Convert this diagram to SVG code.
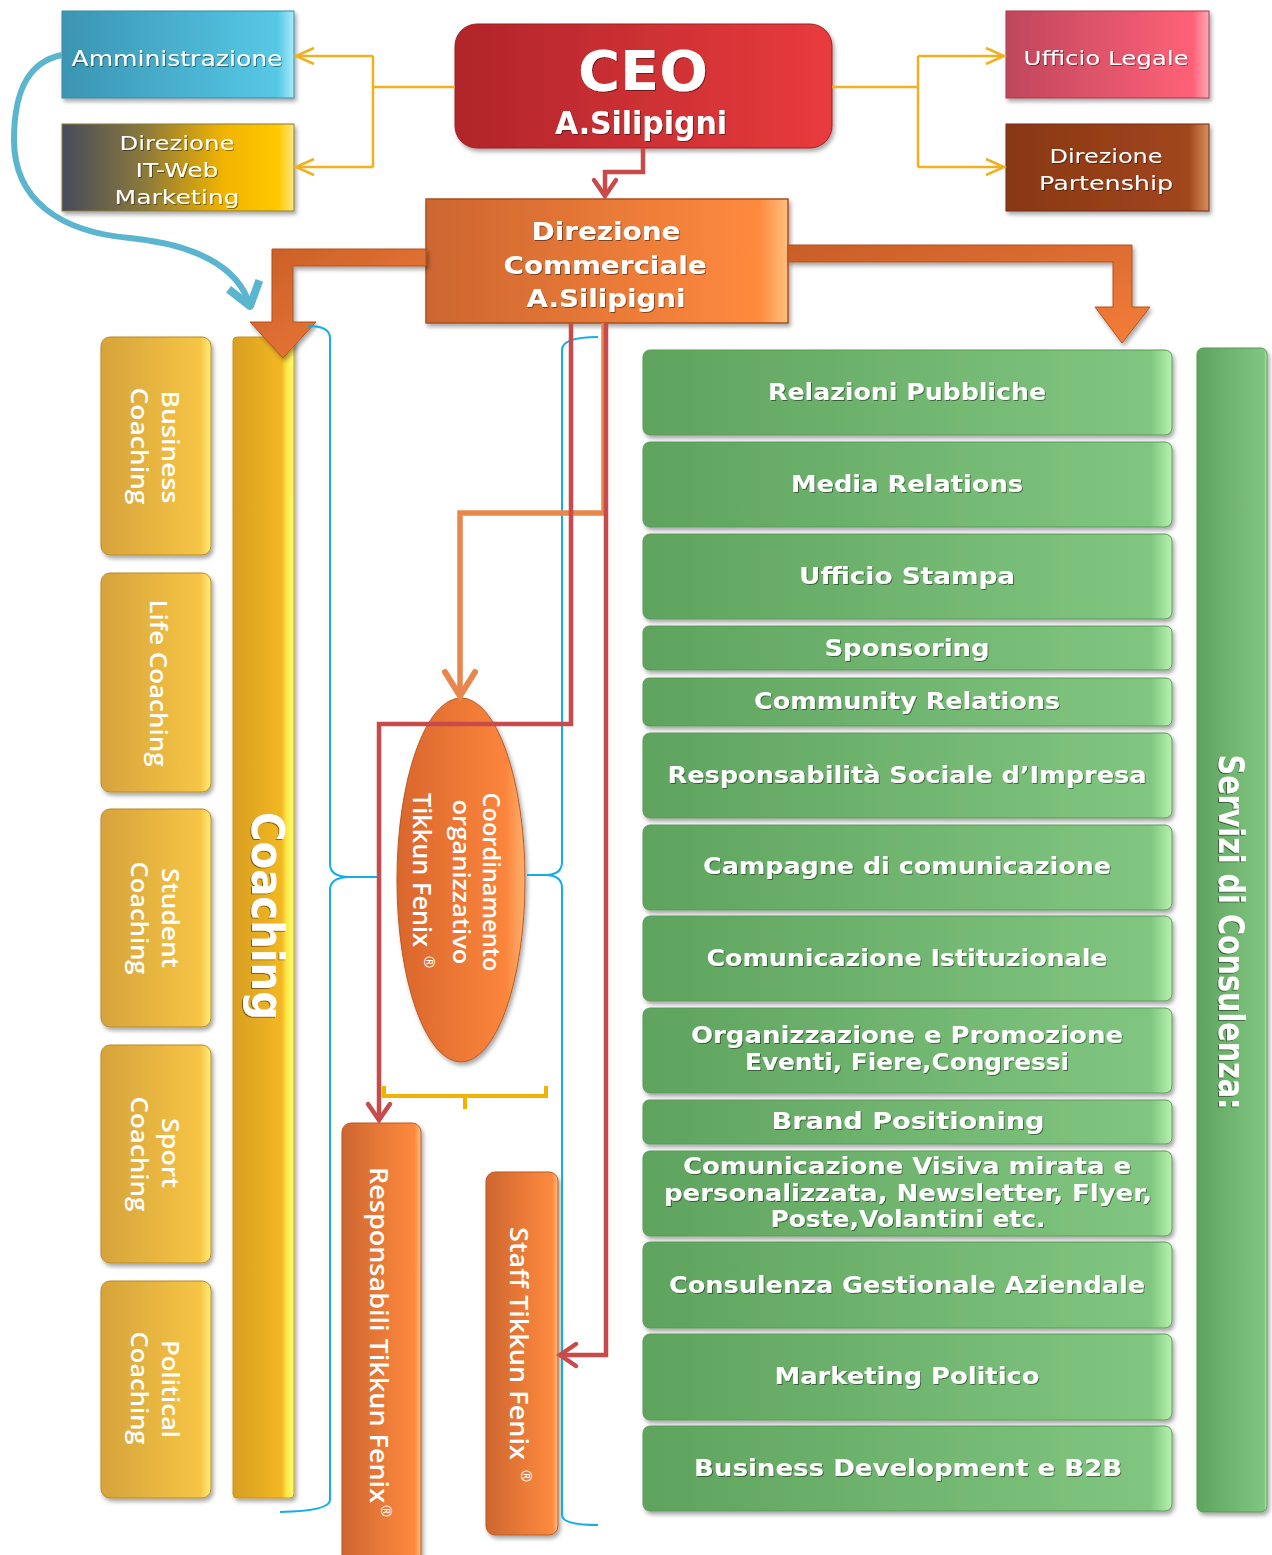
<svg xmlns="http://www.w3.org/2000/svg" width="1272" height="1555" viewBox="0 0 1272 1555">
<style>
.t{font-family:"DejaVu Sans","Liberation Sans",sans-serif;fill:#fff;text-anchor:middle}
.tb{font-family:"DejaVu Sans","Liberation Sans",sans-serif;fill:#fff;text-anchor:middle;font-weight:bold}
.g{font-family:"DejaVu Sans","Liberation Sans",sans-serif;fill:#fff;text-anchor:middle;font-weight:bold;font-size:23px}
.r{font-family:"Open Sans","Liberation Sans",sans-serif;fill:#fff;text-anchor:middle;font-weight:600;font-size:24px}
.rs{font-family:"Open Sans","Liberation Sans",sans-serif;fill:#fff;font-weight:600;font-size:25px}
.reg{font-family:"Open Sans","Liberation Sans",sans-serif;fill:#fff;text-anchor:middle;font-size:15px}
.sv{font-family:"DejaVu Sans Condensed","DejaVu Sans",sans-serif;fill:#fff;text-anchor:middle;font-size:36px;font-weight:bold}
.yl{fill:none;stroke:#f0b020;stroke-width:2.5}
.rd{fill:none;stroke:#c94a4a;stroke-width:4.5}
.br{fill:none;stroke:#12aee8;stroke-width:2}
</style>
<defs>
<filter id="sh" x="-10%" y="-10%" width="130%" height="130%"><feDropShadow dx="2" dy="3" stdDeviation="2" flood-color="#000" flood-opacity="0.35"/></filter>
<filter id="ts" x="-5%" y="-20%" width="110%" height="140%"><feDropShadow dx="1" dy="1" stdDeviation="0.6" flood-color="#000" flood-opacity="0.45"/></filter>
<linearGradient id="gCyan" x1="0" x2="1" y1="0" y2="0"><stop offset="0" stop-color="#3a95b2"/><stop offset="0.93" stop-color="#56c8e6"/><stop offset="1" stop-color="#a8ecfa"/></linearGradient>
<linearGradient id="gIT" x1="0" x2="1" y1="0" y2="0"><stop offset="0" stop-color="#464b5c"/><stop offset="0.35" stop-color="#8a783c"/><stop offset="0.7" stop-color="#f2b400"/><stop offset="0.93" stop-color="#ffc800"/><stop offset="1" stop-color="#ffe680"/></linearGradient>
<linearGradient id="gCEO" x1="0" x2="1" y1="0" y2="0"><stop offset="0" stop-color="#b0252a"/><stop offset="1" stop-color="#e93b3d"/></linearGradient>
<linearGradient id="gPink" x1="0" x2="1" y1="0" y2="0"><stop offset="0" stop-color="#bf475c"/><stop offset="0.92" stop-color="#ff6177"/><stop offset="1" stop-color="#ffa8b8"/></linearGradient>
<linearGradient id="gBrown" x1="0" x2="1" y1="0" y2="0"><stop offset="0" stop-color="#883716"/><stop offset="0.9" stop-color="#a1461c"/><stop offset="1" stop-color="#d8905c"/></linearGradient>
<linearGradient id="gOr" x1="0" x2="1" y1="0" y2="0"><stop offset="0" stop-color="#cd6630"/><stop offset="0.92" stop-color="#ff8a3e"/><stop offset="1" stop-color="#ffc080"/></linearGradient>
<linearGradient id="gEl" x1="0" x2="1" y1="0" y2="0"><stop offset="0" stop-color="#d9662c"/><stop offset="0.85" stop-color="#fb853c"/><stop offset="1" stop-color="#ffb070"/></linearGradient>
<linearGradient id="gArr" x1="0" x2="1" y1="0" y2="1"><stop offset="0" stop-color="#c85e28"/><stop offset="1" stop-color="#f57e3a"/></linearGradient>
<linearGradient id="gGr" x1="0" x2="1" y1="0" y2="0"><stop offset="0" stop-color="#5ea35e"/><stop offset="0.96" stop-color="#81c680"/><stop offset="1" stop-color="#b6f2ae"/></linearGradient>
<linearGradient id="gYe" x1="0" x2="1" y1="0" y2="0"><stop offset="0" stop-color="#d6a33c"/><stop offset="0.9" stop-color="#f6c545"/><stop offset="1" stop-color="#fff07a"/></linearGradient>
<linearGradient id="gCo" x1="0" x2="1" y1="0" y2="0"><stop offset="0" stop-color="#d89e22"/><stop offset="0.8" stop-color="#f2b824"/><stop offset="0.88" stop-color="#ffe84a"/><stop offset="1" stop-color="#ffff6a"/></linearGradient>
<marker id="ay" markerUnits="userSpaceOnUse" viewBox="-22 -12 26 24" refX="0" refY="0" markerWidth="26" markerHeight="24" orient="auto" overflow="visible"><path d="M-18,-8 L0,0 L-18,8" fill="none" stroke="#f0b020" stroke-width="2.5"/></marker>
<marker id="ar" markerUnits="userSpaceOnUse" viewBox="-22 -14 26 28" refX="0" refY="0" markerWidth="26" markerHeight="28" orient="auto" overflow="visible"><path d="M-16,-11 L0,0 L-16,11" fill="none" stroke="#c94a4a" stroke-width="4.5" stroke-linecap="round"/></marker>
<marker id="ao" markerUnits="userSpaceOnUse" viewBox="-30 -20 34 40" refX="0" refY="0" markerWidth="34" markerHeight="40" orient="auto" overflow="visible"><path d="M-24,-15 L0,0 L-24,15" fill="none" stroke="#e8864c" stroke-width="6" stroke-linecap="round"/></marker>
<marker id="ab" markerUnits="userSpaceOnUse" viewBox="-30 -22 34 44" refX="0" refY="0" markerWidth="34" markerHeight="44" orient="auto" overflow="visible"><path d="M-22,-16 L0,0 L-22,16" fill="none" stroke="#5bb5cf" stroke-width="8" stroke-linejoin="round"/></marker>
</defs>
<rect x="0" y="0" width="1272" height="1555" fill="#fff"/>

<g id="nodes">
<g id="amministrazione"><rect x="62" y="11" width="232" height="87" fill="url(#gCyan)" stroke="#3a8aa4" stroke-width="1" filter="url(#sh)"/><text class="t" x="177" y="66" font-size="21" textLength="211" lengthAdjust="spacingAndGlyphs" filter="url(#ts)">Amministrazione</text></g>
<g id="it-web"><rect x="62" y="124" width="232" height="87" fill="url(#gIT)" stroke="#8a7a3a" stroke-width="1" filter="url(#sh)"/><text class="t" font-size="20" filter="url(#ts)"><tspan x="177" y="150" textLength="115" lengthAdjust="spacingAndGlyphs">Direzione</tspan><tspan x="177" y="177" textLength="83" lengthAdjust="spacingAndGlyphs">IT-Web</tspan><tspan x="177" y="204" textLength="125" lengthAdjust="spacingAndGlyphs">Marketing</tspan></text></g>
<g id="ceo"><rect x="455" y="24" width="377" height="124" rx="22" fill="url(#gCEO)" stroke="#9a2024" stroke-width="1" filter="url(#sh)"/><text class="tb" x="643" y="90" font-size="56" textLength="130" lengthAdjust="spacingAndGlyphs" filter="url(#ts)">CEO</text><text class="tb" x="641" y="134" font-size="32" textLength="172" lengthAdjust="spacingAndGlyphs" filter="url(#ts)">A.Silipigni</text></g>
<g id="ufficio-legale"><rect x="1006" y="11" width="203" height="87" fill="url(#gPink)" stroke="#a83a4c" stroke-width="1" filter="url(#sh)"/><text class="t" x="1106" y="65" font-size="20" textLength="165" lengthAdjust="spacingAndGlyphs" filter="url(#ts)">Ufficio Legale</text></g>
<g id="partenship"><rect x="1006" y="124" width="203" height="87" fill="url(#gBrown)" stroke="#6e2c10" stroke-width="1" filter="url(#sh)"/><text class="t" font-size="20" filter="url(#ts)"><tspan x="1106" y="163" textLength="113" lengthAdjust="spacingAndGlyphs">Direzione</tspan><tspan x="1106" y="190" textLength="134" lengthAdjust="spacingAndGlyphs">Partenship</tspan></text></g>
<g id="direzione-commerciale"><rect x="426" y="199" width="362" height="124" fill="url(#gOr)" stroke="#a9501f" stroke-width="1.5" filter="url(#sh)"/><text class="tb" font-size="24" filter="url(#ts)"><tspan x="606" y="240" textLength="149" lengthAdjust="spacingAndGlyphs">Direzione</tspan><tspan x="605" y="274" textLength="203" lengthAdjust="spacingAndGlyphs">Commerciale</tspan><tspan x="606" y="307" textLength="159" lengthAdjust="spacingAndGlyphs">A.Silipigni</tspan></text></g>

<g id="coaching"><rect x="233" y="337" width="61" height="1161" rx="4" fill="url(#gCo)" stroke="#c89420" stroke-width="1" filter="url(#sh)"/><text class="tb" font-size="44" transform="translate(252,916) rotate(90)" textLength="208" lengthAdjust="spacingAndGlyphs" filter="url(#ts)">Coaching</text></g>
<g id="business-coaching"><rect x="101" y="337" width="110" height="218" rx="9" fill="url(#gYe)" stroke="#b88a2a" stroke-width="1" filter="url(#sh)"/><text class="r" transform="translate(162,447) rotate(90)" textLength="113" lengthAdjust="spacingAndGlyphs">Business</text><text class="r" transform="translate(131,446) rotate(90)" textLength="117" lengthAdjust="spacingAndGlyphs">Coaching</text></g>
<g id="life-coaching"><rect x="101" y="573" width="110" height="219" rx="9" fill="url(#gYe)" stroke="#b88a2a" stroke-width="1" filter="url(#sh)"/><text class="r" transform="translate(150,683) rotate(90)" textLength="167" lengthAdjust="spacingAndGlyphs">Life Coaching</text></g>
<g id="student-coaching"><rect x="101" y="809" width="110" height="218" rx="9" fill="url(#gYe)" stroke="#b88a2a" stroke-width="1" filter="url(#sh)"/><text class="r" transform="translate(162,918) rotate(90)" textLength="100" lengthAdjust="spacingAndGlyphs">Student</text><text class="r" transform="translate(131,918) rotate(90)" textLength="113" lengthAdjust="spacingAndGlyphs">Coaching</text></g>
<g id="sport-coaching"><rect x="101" y="1045" width="110" height="218" rx="9" fill="url(#gYe)" stroke="#b88a2a" stroke-width="1" filter="url(#sh)"/><text class="r" transform="translate(162,1153) rotate(90)" textLength="70" lengthAdjust="spacingAndGlyphs">Sport</text><text class="r" transform="translate(131,1154) rotate(90)" textLength="115" lengthAdjust="spacingAndGlyphs">Coaching</text></g>
<g id="political-coaching"><rect x="101" y="1281" width="110" height="217" rx="9" fill="url(#gYe)" stroke="#b88a2a" stroke-width="1" filter="url(#sh)"/><text class="r" transform="translate(162,1389) rotate(90)" textLength="98" lengthAdjust="spacingAndGlyphs">Political</text><text class="r" transform="translate(131,1388) rotate(90)" textLength="113" lengthAdjust="spacingAndGlyphs">Coaching</text></g>

<g id="coordinamento"><ellipse cx="461" cy="880" rx="64" ry="182" fill="url(#gEl)" stroke="#b85a24" stroke-width="1" filter="url(#sh)"/><text class="r" font-size="25" transform="translate(483,882) rotate(90)" textLength="179" lengthAdjust="spacingAndGlyphs">Coordinamento</text><text class="r" font-size="25" transform="translate(453,882) rotate(90)" textLength="165" lengthAdjust="spacingAndGlyphs">organizzativo</text><text class="rs" transform="translate(413,793) rotate(90)" textLength="154" lengthAdjust="spacingAndGlyphs">Tikkun Fenix</text><text class="reg" transform="translate(424,962) rotate(90)">®</text></g>
<g id="responsabili"><rect x="342" y="1123" width="79" height="450" rx="9" fill="url(#gOr)" stroke="#b85a24" stroke-width="1" filter="url(#sh)"/><text class="rs" font-weight="bold" font-size="27" transform="translate(370,1167) rotate(90)" textLength="336" lengthAdjust="spacingAndGlyphs">Responsabili  Tikkun Fenix</text><text class="reg" transform="translate(381,1511) rotate(90)">®</text></g>
<g id="staff"><rect x="486" y="1172" width="72" height="363" rx="9" fill="url(#gOr)" stroke="#b85a24" stroke-width="1" filter="url(#sh)"/><text class="rs" font-weight="bold" font-size="27" transform="translate(510,1227) rotate(90)" textLength="233" lengthAdjust="spacingAndGlyphs">Staff Tikkun Fenix</text><text class="reg" transform="translate(521,1476) rotate(90)">®</text></g>

<g id="servizi"><rect x="1197" y="348" width="70" height="1164" rx="6" fill="url(#gGr)" stroke="#5a9a5a" stroke-width="1" filter="url(#sh)"/><text class="sv" transform="translate(1219,932) rotate(90)" textLength="355" lengthAdjust="spacingAndGlyphs" filter="url(#ts)">Servizi di Consulenza:</text></g>

<g id="relazioni-pubbliche"><rect x="643" y="350" width="529" height="85" rx="7" fill="url(#gGr)" stroke="#5a9a5a" stroke-width="1" filter="url(#sh)"/><text class="g" x="907" y="400" textLength="278" lengthAdjust="spacingAndGlyphs" filter="url(#ts)">Relazioni Pubbliche</text></g>
<g id="media-relations"><rect x="643" y="442" width="529" height="85" rx="7" fill="url(#gGr)" stroke="#5a9a5a" stroke-width="1" filter="url(#sh)"/><text class="g" x="907" y="492" textLength="232" lengthAdjust="spacingAndGlyphs" filter="url(#ts)">Media Relations</text></g>
<g id="ufficio-stampa"><rect x="643" y="534" width="529" height="85" rx="7" fill="url(#gGr)" stroke="#5a9a5a" stroke-width="1" filter="url(#sh)"/><text class="g" x="907" y="584" textLength="216" lengthAdjust="spacingAndGlyphs" filter="url(#ts)">Ufficio Stampa</text></g>
<g id="sponsoring"><rect x="643" y="626" width="529" height="44" rx="6" fill="url(#gGr)" stroke="#5a9a5a" stroke-width="1" filter="url(#sh)"/><text class="g" x="907" y="656" textLength="165" lengthAdjust="spacingAndGlyphs" filter="url(#ts)">Sponsoring</text></g>
<g id="community-relations"><rect x="643" y="678" width="529" height="48" rx="6" fill="url(#gGr)" stroke="#5a9a5a" stroke-width="1" filter="url(#sh)"/><text class="g" x="907" y="709" textLength="306" lengthAdjust="spacingAndGlyphs" filter="url(#ts)">Community Relations</text></g>
<g id="responsabilita-sociale"><rect x="643" y="733" width="529" height="85" rx="7" fill="url(#gGr)" stroke="#5a9a5a" stroke-width="1" filter="url(#sh)"/><text class="g" x="907" y="783" textLength="479" lengthAdjust="spacingAndGlyphs" filter="url(#ts)">Responsabilità Sociale d’Impresa</text></g>
<g id="campagne"><rect x="643" y="825" width="529" height="85" rx="7" fill="url(#gGr)" stroke="#5a9a5a" stroke-width="1" filter="url(#sh)"/><text class="g" x="907" y="874" textLength="408" lengthAdjust="spacingAndGlyphs" filter="url(#ts)">Campagne di comunicazione</text></g>
<g id="comunicazione-istituzionale"><rect x="643" y="916" width="529" height="85" rx="7" fill="url(#gGr)" stroke="#5a9a5a" stroke-width="1" filter="url(#sh)"/><text class="g" x="907" y="966" textLength="401" lengthAdjust="spacingAndGlyphs" filter="url(#ts)">Comunicazione Istituzionale</text></g>
<g id="eventi"><rect x="643" y="1008" width="529" height="85" rx="7" fill="url(#gGr)" stroke="#5a9a5a" stroke-width="1" filter="url(#sh)"/><text class="g" filter="url(#ts)"><tspan x="907" y="1043" textLength="432" lengthAdjust="spacingAndGlyphs">Organizzazione e Promozione</tspan><tspan x="907" y="1070" textLength="324" lengthAdjust="spacingAndGlyphs">Eventi, Fiere,Congressi</tspan></text></g>
<g id="brand-positioning"><rect x="643" y="1100" width="529" height="44" rx="6" fill="url(#gGr)" stroke="#5a9a5a" stroke-width="1" filter="url(#sh)"/><text class="g" x="908" y="1129" textLength="273" lengthAdjust="spacingAndGlyphs" filter="url(#ts)">Brand  Positioning</text></g>
<g id="comunicazione-visiva"><rect x="643" y="1151" width="529" height="85" rx="7" fill="url(#gGr)" stroke="#5a9a5a" stroke-width="1" filter="url(#sh)"/><text class="g" font-size="22" filter="url(#ts)"><tspan x="907" y="1174" textLength="448" lengthAdjust="spacingAndGlyphs">Comunicazione Visiva mirata e</tspan><tspan x="908" y="1201" textLength="488" lengthAdjust="spacingAndGlyphs">personalizzata, Newsletter, Flyer,</tspan><tspan x="908" y="1227" textLength="275" lengthAdjust="spacingAndGlyphs">Poste,Volantini etc.</tspan></text></g>
<g id="consulenza-gestionale"><rect x="643" y="1242" width="529" height="86" rx="7" fill="url(#gGr)" stroke="#5a9a5a" stroke-width="1" filter="url(#sh)"/><text class="g" x="907" y="1293" textLength="476" lengthAdjust="spacingAndGlyphs" filter="url(#ts)">Consulenza Gestionale Aziendale</text></g>
<g id="marketing-politico"><rect x="643" y="1334" width="529" height="86" rx="7" fill="url(#gGr)" stroke="#5a9a5a" stroke-width="1" filter="url(#sh)"/><text class="g" x="907" y="1384" textLength="265" lengthAdjust="spacingAndGlyphs" filter="url(#ts)">Marketing Politico</text></g>
<g id="business-development"><rect x="643" y="1426" width="529" height="85" rx="7" fill="url(#gGr)" stroke="#5a9a5a" stroke-width="1" filter="url(#sh)"/><text class="g" x="908" y="1476" textLength="428" lengthAdjust="spacingAndGlyphs" filter="url(#ts)">Business Development e B2B</text></g>
</g>

<g id="connectors">
<path class="yl" d="M455,87 L373,87 M373,56 L373,167"/>
<path class="yl" d="M373,56 L296,56" marker-end="url(#ay)"/>
<path class="yl" d="M373,167 L296,167" marker-end="url(#ay)"/>
<path class="yl" d="M832,87 L918,87 M918,56 L918,167"/>
<path class="yl" d="M918,56 L1004,56" marker-end="url(#ay)"/>
<path class="yl" d="M918,167 L1004,167" marker-end="url(#ay)"/>
<path class="rd" d="M643,148 L643,172 L605,172 L605,196" marker-end="url(#ar)"/>
<path d="M62,55 C26,62 14,95 14,140 C14,200 60,232 130,238 C190,244 238,264 250,306" fill="none" stroke="#5bb5cf" stroke-width="6" marker-end="url(#ab)"/>
<path d="M426,249 L272,249 L272,322 L250,322 L283,358 L316,322 L293,322 L293,266 L426,266 Z" fill="url(#gArr)" stroke="#b0521f" stroke-width="1" filter="url(#sh)"/>
<path d="M788,245 L1132,245 L1132,307 L1150,307 L1122,343 L1095,307 L1113,307 L1113,262 L788,262 Z" fill="url(#gArr)" stroke="#b0521f" stroke-width="1" filter="url(#sh)"/>
<path class="br" d="M308,326 Q330,326 330,338 L330,864 Q330,877 350,877 L378,877 M350,877 Q330,877 330,890 L330,1500 Q330,1511 280,1512"/>
<path class="br" d="M598,337 Q562,337 562,350 L562,862 Q562,875 545,875 L527,875 M545,875 Q562,875 562,888 L562,1515 Q562,1525 598,1525"/>
<path d="M604,323 L604,513 L460,513 L460,696" fill="none" stroke="#e8864c" stroke-width="5.5" marker-end="url(#ao)"/>
<path class="rd" d="M571,323 L571,724 L379,724 L379,1120" marker-end="url(#ar)"/>
<path class="rd" d="M606,323 L606,1355 L560,1355" marker-end="url(#ar)"/>
<path d="M384,1086 L384,1096 L546,1096 L546,1086 M465,1096 L465,1109" fill="none" stroke="#f0b400" stroke-width="4"/>
</g>
</svg>
